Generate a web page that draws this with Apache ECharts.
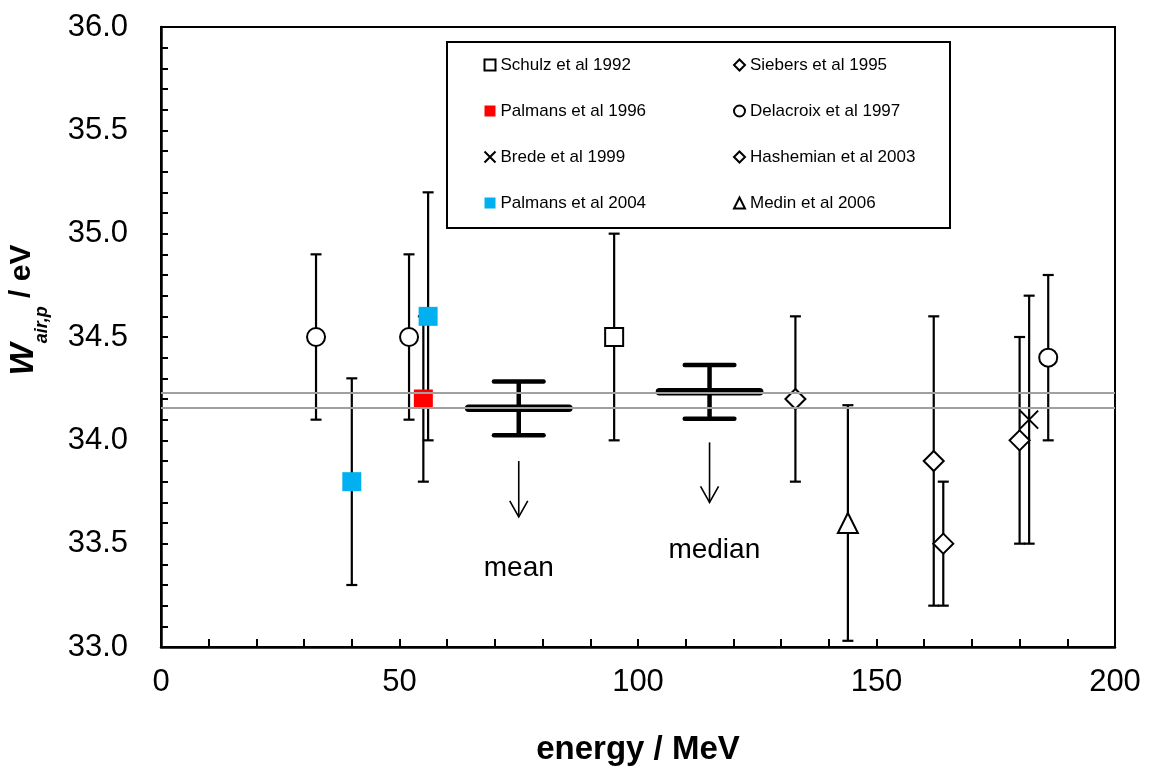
<!DOCTYPE html>
<html>
<head>
<meta charset="utf-8">
<script src="https://cdn.jsdelivr.net/npm/echarts@6/dist/echarts.min.js"></script>
<style>
  html, body { margin: 0; padding: 0; background: #fff; }
  #chart { width: 1149px; height: 771px; }
</style>
</head>
<body>
<div id="chart"></div>
<script>
/* ---------- data: energy / MeV, W / eV, uncertainty / eV ---------- */
const schulzX = [95],            schulzY = [34.5],             schulzErr = [0.5];
const siebersX = [133],          siebersY = [34.2],            siebersErr = [0.4];
const palmans96X = [55],         palmans96Y = [34.2],          palmans96Err = [0.4];
const delacroixX = [32.5, 52, 186], delacroixY = [34.5, 34.5, 34.4], delacroixErr = [0.4, 0.4, 0.4];
const bredeX = [182],            bredeY = [34.1],              bredeErr = [0.6];
const hashemianX = [162, 164, 180], hashemianY = [33.9, 33.5, 34.0], hashemianErr = [0.7, 0.3, 0.5];
const palmans04X = [40, 56],     palmans04Y = [33.8, 34.6],    palmans04Err = [0.5, 0.6];
const medinX = [144],            medinY = [33.6],              medinErr = [0.57];

// mean and median of all values
const statNames = ['mean', 'median'];
const statX = [75, 115];
const statY = [34.155, 34.235];
const statErr = [0.13, 0.13];

// axis ticks
const xTicks = [0, 50, 100, 150, 200];
const yTicks = [33.0, 33.5, 34.0, 34.5, 35.0, 35.5, 36.0];

/* ---------- styling ---------- */
const FONT = 'Liberation Sans, Arial, sans-serif';
const studies = [
  { name: 'Schulz et al 1992',    x: schulzX,    y: schulzY,    e: schulzErr,    symbol: 'rect',     size: 18, fill: '#fff' },
  { name: 'Siebers et al 1995',   x: siebersX,   y: siebersY,   e: siebersErr,   symbol: 'diamond',  size: 20, fill: '#fff' },
  { name: 'Palmans et al 1996',   x: palmans96X, y: palmans96Y, e: palmans96Err, symbol: 'rect',     size: 19, fill: '#ff0000', solid: true },
  { name: 'Delacroix et al 1997', x: delacroixX, y: delacroixY, e: delacroixErr, symbol: 'circle',   size: 18, fill: '#fff' },
  { name: 'Brede et al 1999',     x: bredeX,     y: bredeY,     e: bredeErr,     symbol: 'path://M0 0L20 20M20 0L0 20', size: 18, fill: 'none' },
  { name: 'Hashemian et al 2003', x: hashemianX, y: hashemianY, e: hashemianErr, symbol: 'diamond',  size: 20, fill: '#fff' },
  { name: 'Palmans et al 2004',   x: palmans04X, y: palmans04Y, e: palmans04Err, symbol: 'rect',     size: 19, fill: '#00b0f0', solid: true },
  { name: 'Medin et al 2006',     x: medinX,     y: medinY,     e: medinErr,     symbol: 'triangle', size: 20, fill: '#fff' }
];

// arrows + words under the mean / median markers (data coords)
const notes = [
  { x: 75,  from: 33.9,  to: 33.63, label: 'mean',   lx: 75,  ly: 33.38 },
  { x: 115, from: 33.99, to: 33.70, label: 'median', lx: 116, ly: 33.47 }
];

function errorBar(params, api) {
  const x = api.value(0), y = api.value(1), e = api.value(2);
  const top = api.coord([x, y + e]);
  const bot = api.coord([x, y - e]);
  const cap = 5.5;
  const style = { stroke: '#000', lineWidth: 2.2 };
  return {
    type: 'group',
    children: [
      { type: 'line', shape: { x1: top[0], y1: top[1], x2: bot[0], y2: bot[1] }, style },
      { type: 'line', shape: { x1: top[0] - cap, y1: top[1], x2: top[0] + cap, y2: top[1] }, style },
      { type: 'line', shape: { x1: bot[0] - cap, y1: bot[1], x2: bot[0] + cap, y2: bot[1] }, style }
    ]
  };
}

function statMarker(params, api) {
  const x = api.value(0), y = api.value(1), e = api.value(2);
  const mid = api.coord([x, y]);
  const l = api.coord([x - 10.5, y]), r = api.coord([x + 10.5, y]);
  const top = api.coord([x, y + e]), bot = api.coord([x, y - e]);
  const cl = api.coord([x - 5.2, y])[0], cr = api.coord([x + 5.2, y])[0];
  const thin = { stroke: '#000', lineWidth: 4.5, lineCap: 'round' };
  return {
    type: 'group',
    children: [
      { type: 'line', shape: { x1: l[0], y1: mid[1], x2: r[0], y2: mid[1] }, style: { stroke: '#000', lineWidth: 7.5, lineCap: 'round' } },
      { type: 'line', shape: { x1: top[0], y1: top[1], x2: bot[0], y2: bot[1] }, style: { stroke: '#000', lineWidth: 4.5 } },
      { type: 'line', shape: { x1: cl, y1: top[1], x2: cr, y2: top[1] }, style: thin },
      { type: 'line', shape: { x1: cl, y1: bot[1], x2: cr, y2: bot[1] }, style: thin }
    ]
  };
}

function noteItem(params, api) {
  const n = notes[params.dataIndex];
  const a = api.coord([n.x, n.from]);
  const b = api.coord([n.x, n.to]);
  const t = api.coord([n.lx, n.ly]);
  const st = { stroke: '#000', lineWidth: 1.6, fill: null };
  return {
    type: 'group',
    children: [
      { type: 'line', shape: { x1: a[0], y1: a[1], x2: b[0], y2: b[1] }, style: st },
      { type: 'polyline', shape: { points: [[b[0] - 9, b[1] - 16], [b[0], b[1]], [b[0] + 9, b[1] - 16]] }, style: st },
      { type: 'text', x: t[0], y: t[1], style: { text: n.label, font: '28px ' + FONT, fill: '#000', align: 'center', verticalAlign: 'middle' } }
    ]
  };
}

const chart = echarts.init(document.getElementById('chart'));

const series = [];
studies.forEach(s => {
  const pts = s.x.map((x, i) => [x, s.y[i], s.e[i]]);
  series.push({
    name: s.name + ' err',
    type: 'custom',
    renderItem: errorBar,
    data: pts,
    z: 2,
    silent: true
  });
  series.push({
    name: s.name,
    type: 'scatter',
    symbol: s.symbol,
    symbolSize: s.size,
    data: pts.map(p => [p[0], p[1]]),
    itemStyle: s.solid
      ? { color: s.fill, borderWidth: 0, opacity: 1 }
      : { color: s.fill, borderColor: '#000', borderWidth: 2, opacity: 1 },
    z: 3
  });
});

series.push({
  name: 'stats',
  type: 'custom',
  renderItem: statMarker,
  data: statX.map((x, i) => [x, statY[i], statErr[i]]),
  z: 4,
  silent: true,
  markLine: {
    silent: true,
    symbol: 'none',
    label: { show: false },
    lineStyle: { color: '#a0a0a0', width: 2, type: 'solid' },
    data: statY.map(v => ({ yAxis: v }))
  }
});

series.push({
  name: 'notes',
  type: 'custom',
  renderItem: noteItem,
  data: notes.map(n => [n.x, n.to]),
  z: 4,
  silent: true
});

const legendBase = {
  orient: 'vertical',
  itemWidth: 11,
  itemHeight: 11,
  itemGap: 26,
  padding: 0,
  textStyle: { fontFamily: FONT, fontSize: 17, color: '#000', lineHeight: 20 },
  selectedMode: false
};

chart.setOption({
  backgroundColor: '#fff',
  animation: false,
  textStyle: { fontFamily: FONT },
  grid: {
    left: 161, right: 34, top: 27, bottom: 124,
    outerBoundsMode: 'none',
    containLabel: false,
    show: true, borderColor: '#000', borderWidth: 2
  },
  legend: [
    Object.assign({}, legendBase, {
      left: 482, top: 55,
      data: ['Schulz et al 1992', 'Palmans et al 1996', 'Brede et al 1999', 'Palmans et al 2004']
    }),
    Object.assign({}, legendBase, {
      left: 733, top: 55,
      data: ['Siebers et al 1995', 'Delacroix et al 1997', 'Hashemian et al 2003', 'Medin et al 2006']
    })
  ],
  graphic: [{
    type: 'rect',
    shape: { x: 447, y: 42, width: 503, height: 186 },
    style: { fill: 'none', stroke: '#000', lineWidth: 2 },
    silent: true
  }],
  xAxis: {
    type: 'value',
    min: xTicks[0], max: xTicks[xTicks.length - 1], interval: 50,
    name: 'energy / MeV',
    nameLocation: 'middle',
    nameGap: 86,
    nameTextStyle: { fontFamily: FONT, fontSize: 33, fontWeight: 'bold', color: '#000' },
    axisLine: { lineStyle: { color: '#000', width: 2.5 } },
    axisTick: { inside: true, length: 8, lineStyle: { color: '#000', width: 2 } },
    minorTick: { show: true, splitNumber: 5, length: 8, lineStyle: { color: '#000', width: 2 } },
    axisLabel: { fontFamily: FONT, fontSize: 31, color: '#000', margin: 20 },
    splitLine: { show: false }
  },
  yAxis: {
    type: 'value',
    min: yTicks[0], max: yTicks[yTicks.length - 1], interval: 0.5,
    name: '{w|W}{s|air,p}{u| / eV}',
    nameLocation: 'middle',
    nameRotate: 90,
    nameGap: 110,
    nameTextStyle: {
      color: '#000',
      padding: [0, 0, 0, 54],
      rich: {
        w: { fontFamily: FONT, fontSize: 34, fontWeight: 'bold', fontStyle: 'italic', lineHeight: 44, verticalAlign: 'top' },
        s: { fontFamily: FONT, fontSize: 18, fontWeight: 'bold', fontStyle: 'italic', lineHeight: 19, verticalAlign: 'bottom' },
        u: { fontFamily: FONT, fontSize: 30, fontWeight: 'bold', lineHeight: 44, verticalAlign: 'top' }
      }
    },
    axisLine: { lineStyle: { color: '#000', width: 2.5 } },
    axisTick: { inside: true, length: 7, lineStyle: { color: '#000', width: 2 } },
    minorTick: { show: true, splitNumber: 5, length: 7, lineStyle: { color: '#000', width: 2 } },
    axisLabel: { fontFamily: FONT, fontSize: 31, color: '#000', margin: 33, formatter: v => v.toFixed(1) },
    splitLine: { show: false }
  },
  series: series
});
</script>
</body>
</html>
